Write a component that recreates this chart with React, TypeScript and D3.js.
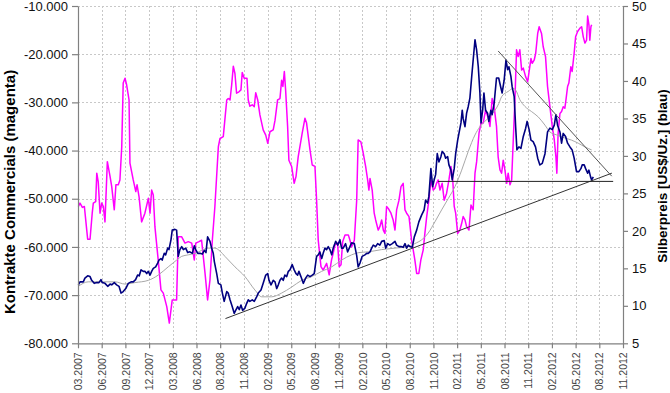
import { useEffect, useRef } from 'react'
import * as d3 from 'd3'

const W = 670
const H = 393

// x in weeks since 03.2007, one label every 13 weeks
const tickLabels = ['03.2007', '06.2007', '09.2007', '12.2007', '03.2008', '06.2008', '08.2008', '11.2008',
    '02.2009', '05.2009', '08.2009', '11.2009', '02.2010', '05.2010', '08.2010', '11.2010',
    '02.2011', '05.2011', '08.2011', '11.2011', '02.2012', '05.2012', '08.2012', '11.2012']
const leftTicks = [-80000, -70000, -60000, -50000, -40000, -30000, -20000, -10000]
const rightTicks = [5, 10, 15, 20, 25, 30, 35, 40, 45, 50]

// Kontrakte Commercials [week, contracts]
const commercials: [number, number][] = [
    [0.2, -51600], [1.1, -50900], [2.4, -51800], [3.5, -51600], [4.8, -56500], [5.3, -58400], [6.6, -58400], [7.8, -53000],
    [8.4, -50900], [9.7, -50600], [10.3, -44700], [11.1, -46500], [12.1, -53000], [13.0, -50900], [13.9, -51600], [14.8, -54800],
    [16.1, -42300], [17.6, -45400], [18.5, -47500], [19.9, -52300], [20.8, -47100], [22.1, -47100], [23.0, -46100], [24.0, -39200],
    [24.8, -26000], [25.8, -25000], [26.7, -26400], [28.0, -29500], [28.5, -42600], [30.3, -46100], [31.7, -48500], [32.4, -47100],
    [33.5, -49600], [34.9, -54800], [36.7, -53000], [38.6, -49900], [39.5, -53000], [40.4, -48200], [41.3, -49200], [42.2, -55800],
    [44.0, -62700], [45.5, -68900], [46.8, -69600], [48.7, -72400], [50.1, -75800], [51.7, -71000], [54.1, -71000], [55.0, -57900],
    [56.9, -57900], [58.7, -59200], [60.5, -58900], [62.4, -59200], [63.8, -62700], [64.6, -59200], [66.4, -58900], [67.8, -58600],
    [69.7, -65500], [71.1, -71000], [72.4, -66900], [73.7, -58600], [75.1, -51600], [77.0, -39200], [77.9, -37500], [79.7, -37100],
    [81.6, -29500], [82.4, -29200], [83.4, -29500], [84.3, -26400], [85.2, -22500], [86.1, -24000], [87.0, -28100], [88.3, -27800],
    [89.4, -27400], [90.1, -23800], [91.2, -25000], [92.7, -25000], [93.4, -29500], [94.3, -30800], [95.6, -30500], [96.7, -30900],
    [97.5, -28000], [98.6, -29500], [99.8, -32600], [101.6, -35700], [103.0, -36800], [104.1, -38500], [105.3, -36100], [107.1, -35700],
    [108.1, -33700], [109.5, -29500], [110.8, -29200], [111.7, -25400], [112.4, -26700], [113.2, -23600], [113.9, -27400], [115.0, -35000],
    [115.7, -42000], [117.2, -43300], [118.6, -46800], [119.6, -45400], [120.8, -41300], [123.0, -36400], [124.5, -33300], [125.4, -34300],
    [127.3, -39900], [128.5, -43000], [130.0, -43300], [130.9, -50300], [131.8, -58600], [133.3, -64100], [134.5, -64800], [136.4, -63400],
    [137.8, -65800], [139.1, -62700], [140.0, -61300], [141.0, -59600], [142.4, -59200], [143.3, -64100], [144.3, -63700], [145.2, -58900],
    [146.5, -57500], [148.3, -57500], [149.2, -58600], [150.1, -60000], [151.6, -58600], [152.9, -50300], [153.7, -37800], [155.2, -38200],
    [156.5, -40600], [157.8, -43300], [158.9, -46100], [159.6, -48200], [160.2, -45800], [161.4, -48200], [162.5, -53000], [163.3, -54400],
    [164.7, -56500], [165.6, -55800], [166.6, -54400], [167.5, -56500], [168.4, -57200], [169.3, -51600], [170.2, -52000], [171.7, -53000],
    [172.9, -54400], [173.9, -56500], [174.8, -52300], [176.1, -50300], [177.2, -47500], [178.4, -46800], [179.4, -52300], [180.3, -53000],
    [181.6, -53700], [183.0, -58600], [183.9, -60600], [184.8, -62700], [185.8, -65500], [187.0, -65500], [188.1, -62700], [189.4, -60600],
    [190.3, -57200], [191.3, -53700], [192.5, -50300], [193.6, -46100], [194.9, -48200], [195.8, -47800], [196.7, -46800], [197.6, -46100],
    [198.6, -48200], [199.8, -46800], [200.9, -50300], [202.2, -48900], [203.5, -46100], [204.6, -43300], [205.5, -45400], [206.4, -51600],
    [207.2, -53000], [208.3, -57200], [209.5, -56500], [210.5, -55100], [211.3, -53700], [212.3, -54400], [213.2, -55800], [214.5, -56500],
    [215.6, -51300], [216.8, -52300], [217.8, -44700], [218.7, -42300], [220.0, -36400], [221.1, -34300], [222.3, -34300], [223.6, -31600],
    [225.1, -33300], [226.0, -35000], [227.2, -29200], [228.3, -30900], [229.6, -35000], [230.5, -41300], [231.5, -44000], [232.4, -44700],
    [233.3, -42000], [234.2, -44000], [235.2, -46800], [236.0, -44700], [237.0, -47100], [237.9, -46100], [238.8, -37800], [239.7, -29500],
    [240.6, -19100], [241.5, -20500], [242.4, -19100], [243.4, -23300], [244.3, -22900], [245.6, -24700], [246.7, -25700], [247.6, -23300],
    [248.5, -20900], [249.2, -21900], [250.3, -21200], [251.1, -19800], [252.2, -15700], [253.0, -14300], [254.3, -15700], [255.2, -18400],
    [256.5, -20500], [257.6, -26700], [258.9, -30900], [260.2, -35000], [261.3, -37800], [262.2, -41300], [262.7, -44700], [263.4, -36400],
    [264.4, -32300], [265.3, -31900], [266.2, -30900], [267.1, -31200], [267.7, -29500], [268.6, -26700], [269.3, -26000], [270.4, -22600],
    [271.1, -23600], [272.2, -19800], [273.0, -16400], [274.1, -15300], [275.4, -14600], [276.3, -14300], [277.2, -16400], [278.1, -17700],
    [279.0, -17100], [279.6, -12100], [280.3, -13900], [280.8, -17100], [281.4, -14300], [281.8, -13900],
]

// Silberpreis [week, US$/oz]
const silver: [number, number][] = [
    [0.2, 12.8], [1.1, 13.2], [2.9, 13.2], [3.8, 13.7], [5.3, 14.0], [6.6, 13.9], [7.5, 13.4], [8.9, 13.0], [10.3, 13.1], [11.5, 13.1],
    [12.6, 13.5], [13.3, 13.1], [14.8, 13.0], [16.3, 12.6], [17.6, 12.9], [18.5, 12.8], [19.9, 13.1], [21.2, 12.8], [22.5, 12.6], [23.6, 11.7],
    [24.8, 11.9], [26.2, 12.3], [27.6, 13.0], [29.1, 13.2], [30.3, 13.2], [31.6, 13.5], [32.7, 14.1], [33.6, 14.0], [34.6, 14.8], [35.8, 14.6],
    [36.7, 14.6], [37.7, 14.3], [38.6, 14.6], [39.5, 14.1], [40.4, 14.6], [41.3, 15.0], [42.6, 15.2], [43.7, 15.7], [44.4, 16.1], [45.5, 16.3],
    [46.2, 16.1], [47.3, 17.0], [48.1, 16.8], [49.2, 17.7], [49.9, 17.5], [51.0, 18.8], [51.7, 20.1], [53.2, 20.2], [54.1, 20.1], [55.0, 16.6],
    [55.9, 17.5], [56.9, 17.9], [57.8, 17.5], [59.1, 17.7], [60.2, 17.1], [61.4, 17.2], [62.7, 17.0], [63.8, 18.0], [64.6, 17.5], [65.7, 17.0],
    [66.9, 17.0], [68.2, 16.9], [69.3, 17.4], [70.2, 17.1], [71.1, 19.2], [72.4, 18.6], [73.3, 17.7], [74.2, 17.0], [74.8, 15.9], [76.1, 14.3],
    [77.0, 13.0], [78.4, 12.8], [79.2, 11.7], [80.2, 10.6], [81.6, 11.9], [82.4, 11.7], [83.4, 10.8], [84.6, 9.9], [85.7, 9.0], [86.5, 9.4],
    [87.6, 9.9], [88.5, 9.5], [89.4, 10.1], [90.3, 9.4], [91.6, 9.7], [92.5, 10.3], [93.4, 10.8], [94.3, 10.6], [95.6, 10.8], [96.7, 10.6],
    [98.0, 11.2], [98.9, 11.7], [100.4, 12.1], [101.6, 13.0], [103.0, 14.1], [104.1, 14.3], [104.8, 13.4], [105.9, 12.8], [107.1, 13.4], [108.1, 13.2],
    [109.0, 12.3], [109.9, 12.8], [110.8, 13.4], [111.7, 13.7], [112.6, 13.4], [113.5, 14.1], [114.5, 13.9], [115.4, 14.6], [116.3, 14.8], [117.5, 15.5],
    [118.6, 14.8], [119.6, 14.3], [120.5, 14.1], [121.2, 14.6], [122.3, 13.9], [123.6, 13.0], [124.9, 13.7], [126.0, 14.1], [127.3, 13.9], [128.5, 14.1],
    [129.6, 14.3], [130.9, 16.6], [131.8, 16.8], [132.7, 17.2], [133.7, 16.3], [134.5, 17.0], [135.5, 17.7], [136.4, 17.5], [137.3, 17.9], [138.2, 17.5],
    [139.2, 16.8], [140.0, 17.7], [141.4, 18.6], [142.5, 18.1], [143.7, 18.8], [144.6, 17.7], [145.5, 17.7], [146.8, 18.3], [147.9, 17.2], [149.2, 17.9],
    [150.1, 18.4], [151.6, 18.3], [152.9, 16.7], [153.7, 15.2], [154.7, 15.7], [155.9, 16.6], [157.4, 16.8], [158.4, 17.0], [159.2, 17.0], [160.2, 17.2],
    [161.1, 17.7], [162.0, 18.1], [163.3, 17.9], [164.4, 18.3], [165.6, 18.1], [166.6, 18.6], [168.0, 18.7], [168.8, 17.7], [169.9, 18.3], [171.1, 18.1],
    [172.4, 18.3], [173.9, 18.6], [174.8, 18.1], [176.1, 17.9], [177.2, 17.9], [178.4, 17.8], [179.4, 18.3], [180.3, 17.7], [181.2, 18.1], [182.1, 17.9],
    [183.4, 17.8], [184.5, 19.2], [185.8, 20.1], [187.0, 21.2], [188.5, 22.1], [189.9, 22.8], [190.7, 24.1], [191.8, 23.7], [192.5, 24.6], [193.6, 28.3],
    [194.6, 25.9], [195.4, 26.8], [196.2, 27.5], [197.1, 30.3], [198.0, 29.2], [199.1, 29.9], [199.8, 30.6], [200.9, 30.3], [201.7, 29.7], [202.8, 29.9],
    [203.5, 28.8], [204.6, 28.1], [205.3, 26.8], [206.4, 28.3], [207.2, 30.3], [208.3, 32.1], [209.0, 33.0], [210.1, 34.4], [210.8, 36.1], [211.3, 35.0],
    [212.3, 33.9], [213.2, 35.7], [214.1, 36.6], [215.0, 37.7], [216.0, 40.6], [216.8, 42.8], [217.8, 45.5], [218.7, 44.1], [219.6, 41.9], [220.5, 38.4],
    [221.1, 34.4], [222.0, 36.1], [222.7, 38.4], [223.6, 36.1], [224.7, 35.7], [225.4, 34.6], [226.5, 36.1], [227.2, 35.5], [228.3, 37.0], [229.6, 40.4],
    [230.8, 40.4], [231.9, 39.2], [232.7, 38.4], [233.8, 40.1], [234.8, 42.8], [235.7, 41.5], [236.4, 41.9], [237.5, 40.6], [238.2, 39.2], [239.3, 37.9],
    [240.1, 33.9], [240.8, 30.8], [241.9, 31.2], [243.0, 31.0], [244.3, 32.6], [245.6, 33.7], [246.4, 34.6], [247.5, 33.5], [248.5, 32.1], [249.7, 31.9],
    [251.0, 31.2], [252.2, 29.7], [253.4, 28.8], [254.7, 29.0], [256.2, 30.3], [257.6, 33.2], [258.9, 33.7], [260.2, 33.5], [261.3, 34.1], [262.2, 35.5],
    [263.1, 34.1], [264.4, 33.2], [265.3, 31.7], [266.2, 33.0], [267.5, 32.6], [268.6, 31.7], [269.9, 31.2], [271.1, 30.8], [272.2, 29.7], [273.5, 27.9],
    [274.8, 27.9], [275.9, 28.3], [276.6, 28.8], [277.7, 28.8], [278.5, 28.3], [279.6, 27.7], [280.3, 28.1], [281.2, 27.2], [281.8, 26.8], [282.7, 27.2],
]

// gleitender Durchschnitt Silber
const silverAvg: [number, number][] = [
    [0.2, 12.6], [5.6, 13.2], [13.0, 13.2], [20.3, 13.2], [25.8, 12.9], [31.3, 13.1], [38.6, 13.4], [44.0, 14.1], [49.5, 15.2], [54.1, 16.1],
    [56.9, 16.6], [60.5, 16.8], [64.2, 17.0], [67.9, 17.4], [71.5, 17.7], [75.1, 17.7], [77.9, 17.3], [80.6, 16.6], [86.1, 15.2], [91.6, 13.9],
    [97.1, 12.1], [100.8, 11.2], [106.2, 11.2], [111.7, 11.7], [117.2, 12.5], [122.7, 13.4], [128.2, 13.9], [133.7, 14.6], [139.2, 15.2], [144.6, 16.1],
    [150.1, 16.8], [154.1, 17.1], [159.2, 17.2], [166.6, 17.5], [173.9, 17.7], [181.2, 17.9], [184.8, 18.3], [188.5, 18.8], [192.1, 19.7], [195.8, 21.2],
    [199.5, 22.8], [203.1, 24.3], [206.8, 25.9], [210.5, 28.1], [214.1, 30.6], [217.8, 32.8], [220.5, 33.9], [223.2, 34.6], [226.9, 35.5], [230.9, 37.0],
    [232.4, 37.9], [236.0, 38.6], [238.8, 39.0], [240.1, 38.8], [242.4, 37.5], [245.2, 36.6], [248.9, 35.9], [252.5, 35.2], [256.2, 34.1], [258.9, 33.2],
    [262.6, 32.8], [267.1, 32.4], [270.8, 32.1], [274.4, 31.7], [278.1, 31.2], [281.8, 30.8],
]

// Trendlinien (Silber)
const supportLine: [number, number][] = [[80.9, 8.3], [292.9, 27.7]]
const resistanceLine: [number, number][] = [[230.5, 44.0], [292.8, 27.3]]
const horizontalLine: [number, number][] = [[197.6, 26.6], [293.6, 26.6]]

const de = d3.formatLocale({ decimal: ',', thousands: '.', grouping: [3], currency: ['', '€'], minus: '-' })
const fmtThousands = de.format(',.0f')

export default function App() {
    const svgRef = useRef<SVGSVGElement>(null)

    useEffect(() => {
        const svg = d3.select(svgRef.current)
        svg.selectAll('*').remove()
        const margin = { top: 6, right: 47, bottom: 49.7, left: 78 }
        const innerBottom = H - margin.bottom
        const innerRight = W - margin.right

        const x = d3.scaleLinear()
            .domain([0, (tickLabels.length - 1) * 13])
            .range([margin.left, innerRight])
        const yL = d3.scaleLinear().domain([-80000, -10000]).range([innerBottom, margin.top])
        const yR = d3.scaleLinear().domain([5, 50]).range([innerBottom, margin.top])
        const xTicks = tickLabels.map((_, i) => i * 13)

        const font = '"Liberation Sans", Arial, sans-serif'

        // grid
        const grid = svg.append('g')
            .attr('stroke', '#c8c8c8')
            .attr('stroke-width', 1)
            .attr('stroke-dasharray', '2,2')
        grid.selectAll('.vg')
            .data(xTicks.slice(1, -1))
            .enter().append('line')
            .attr('x1', d => Math.round(x(d)) + 0.5)
            .attr('x2', d => Math.round(x(d)) + 0.5)
            .attr('y1', margin.top)
            .attr('y2', innerBottom)
        grid.selectAll('.hg')
            .data(leftTicks.slice(1))
            .enter().append('line')
            .attr('x1', margin.left)
            .attr('x2', innerRight)
            .attr('y1', d => Math.round(yL(d)) + 0.5)
            .attr('y2', d => Math.round(yL(d)) + 0.5)

        const lineL = d3.line<[number, number]>().x(d => x(d[0])).y(d => yL(d[1]))
        const lineR = d3.line<[number, number]>().x(d => x(d[0])).y(d => yR(d[1]))

        svg.append('path')
            .datum(commercials)
            .attr('fill', 'none')
            .attr('stroke', '#ff00ff')
            .attr('stroke-width', 1.5)
            .attr('stroke-linejoin', 'round')
            .attr('d', lineL)

        svg.append('path')
            .datum(silverAvg)
            .attr('fill', 'none')
            .attr('stroke', '#a8a8a8')
            .attr('stroke-width', 1)
            .attr('d', lineR.curve(d3.curveMonotoneX))
        lineR.curve(d3.curveLinear)

        svg.append('path')
            .datum(silver)
            .attr('fill', 'none')
            .attr('stroke', '#000080')
            .attr('stroke-width', 1.6)
            .attr('stroke-linejoin', 'round')
            .attr('d', lineR)

        const trends = [
            { data: supportLine, color: '#333333' },
            { data: horizontalLine, color: '#222222' },
            { data: resistanceLine, color: '#555555' },
        ]
        trends.forEach(t => {
            svg.append('path')
                .datum(t.data)
                .attr('fill', 'none')
                .attr('stroke', t.color)
                .attr('stroke-width', 1)
                .attr('d', lineR)
        })

        // axes
        const axisColor = '#808080'
        const gLeft = svg.append('g')
            .attr('transform', `translate(${margin.left},0)`)
            .call(d3.axisLeft(yL).tickValues(leftTicks).tickSize(6).tickSizeOuter(0).tickFormat(d => fmtThousands(+d)))
        const gRight = svg.append('g')
            .attr('transform', `translate(${innerRight},0)`)
            .call(d3.axisRight(yR).tickValues(rightTicks).tickSize(5).tickSizeOuter(0).tickFormat(d => `${d}`))
        const gBottom = svg.append('g')
            .attr('transform', `translate(0,${innerBottom})`)
            .call(d3.axisBottom(x).tickValues(xTicks).tickSize(5).tickSizeOuter(0).tickFormat((_, i) => tickLabels[i]))

        ;[gLeft, gRight, gBottom].forEach(g => {
            g.selectAll('path, line').attr('stroke', axisColor).attr('stroke-width', 1.2)
            g.selectAll('text').style('font-family', font)
        })
        gLeft.selectAll('text').style('font-size', '13px').attr('fill', '#111').attr('x', -10)
        gRight.selectAll('text').style('font-size', '13px').attr('fill', '#111').attr('x', 9)
        gBottom.selectAll('text')
            .style('font-size', '10.5px')
            .attr('fill', '#444')
            .attr('transform', 'rotate(-90)')
            .attr('text-anchor', 'end')
            .attr('x', -9)
            .attr('y', 0)
            .attr('dy', '0.35em')

        svg.append('text')
            .attr('transform', 'translate(10,192) rotate(-90)')
            .attr('text-anchor', 'middle')
            .attr('dy', '0.35em')
            .style('font-family', font)
            .style('font-weight', 'bold')
            .style('font-size', '15px')
            .text('Kontrakte Commercials (magenta)')

        svg.append('text')
            .attr('transform', 'translate(662,176) rotate(-90)')
            .attr('text-anchor', 'middle')
            .attr('dy', '0.35em')
            .style('font-family', font)
            .style('font-weight', 'bold')
            .style('font-size', '13.5px')
            .text('Silberpreis [US$/Uz.] (blau)')
    }, [])

    return (
        <svg
            ref={svgRef}
            width={W}
            height={H}
            style={{ position: 'absolute', left: 0, top: 0, background: '#fff' }}
        />
    )
}
